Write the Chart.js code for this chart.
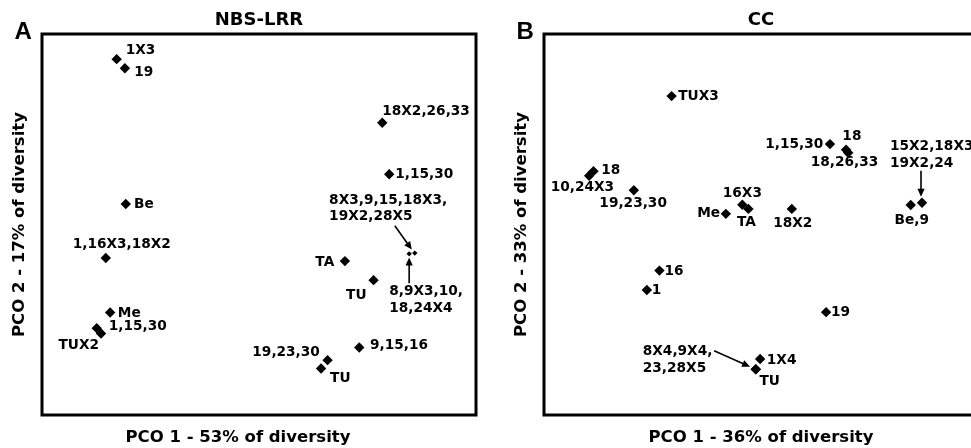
<!DOCTYPE html>
<html><head><meta charset="utf-8">
<script src="https://cdn.jsdelivr.net/npm/chart.js@4/dist/chart.umd.min.js"></script>
<style>
html,body{margin:0;padding:0;background:#fff;overflow:hidden;width:971px;height:448px;position:relative}
#wa{position:absolute;left:0;top:0;width:490px;height:448px}
#wb{position:absolute;left:490px;top:0;width:500px;height:448px}
</style></head><body>
<div id="wa"><canvas id="ca"></canvas></div>
<div id="wb"><canvas id="cb"></canvas></div>
<script>
// ---------- DATA ----------
const nbsTitle = "NBS-LRR";
const nbsXTitle = "PCO 1 - 53% of diversity";
const nbsYTitle = "PCO 2 - 17% of diversity";
const nbsLabels = ["1X3","19","18X2,26,33","1,15,30","Be","1,16X3,18X2","TA","TU",
  "8,9X3,10,\n18,24X4","8X3,9,15,18X3,\n19X2,28X5","Me","TUX2","1,15,30","9,15,16","19,23,30","TU"];
const nbsX = [17.2,19.1,78.4,80.0,19.3,14.7,69.8,76.4,84.6,85.9,15.7,12.6,13.6,73.1,65.8,64.3];
const nbsY = [93.4,91.0,76.7,63.2,55.4,41.2,40.4,35.4,42.3,42.5,26.9,22.8,21.4,17.7,14.4,12.2];

const ccTitle = "CC";
const ccXTitle = "PCO 1 - 36% of diversity";
const ccYTitle = "PCO 2 - 33% of diversity";
const ccLabels = ["TUX3","1,15,30","18","18,26,33","18","10,24X3","19,23,30","16X3","TA","Me","18X2",
  "Be,9","15X2,18X3,\n19X2,24","16","1","19","1X4","TU","8X4,9X4,\n23,28X5"];
const ccX = [29.4,65.9,69.6,70.1,11.4,10.4,20.7,45.7,47.1,41.9,57.1,84.5,87.1,26.6,23.7,65.0,49.8,48.8,48.8];
const ccY = [83.7,71.1,69.6,68.8,64.0,62.8,59.0,55.2,54.1,52.8,54.1,55.1,55.7,37.9,32.8,27.0,14.7,12.0,12.0];

// ---------- STYLE / LAYOUT ----------
const FONT = '"DejaVu Sans", sans-serif';
const nbsRadius = nbsLabels.map((_, i) => (i === 8 || i === 9) ? 2.7 : 5.2);
const ccRadius = ccLabels.map(() => 5.2);
// label placement: [dx, dy, align] relative to marker pixel position
const nbsPlace = [
  [9,-9,'left'],[9.3,4.4,'left'],[0,-11,'left'],[6,0,'left'],[8.3,0.5,'left'],[16,-13.7,'center'],
  [-10.7,1.3,'right'],[-7,15,'right'],[-20,38,'left'],[-85.7,-53,'left'],[7.7,0.6,'left'],
  [2.3,17.4,'right'],[7.7,-6.7,'left'],[10.7,-2,'left'],[-7.7,-7.6,'right'],[9,9.6,'left']
];
const nbsArrows = {8: [[0,29.3],[0,3.7]], 9: [[-20,-27.3],[-3,-3.5]]};
const ccPlace = [
  [6.6,0,'left'],[-6.7,0,'right'],[-3.7,-13.3,'left'],[-3.8,10,'center'],[7.7,-1,'left'],
  [25,12,'right'],[-0.7,13,'center'],[0,-11.4,'center'],[-2,13.7,'center'],[-5.7,0,'right'],
  [1,15,'center'],[1,15,'center'],[-32,-56,'left'],[5,1,'left'],[5,0.7,'left'],[5,0.4,'left'],
  [6.7,1,'left'],[3.6,11.7,'left'],[-113,-17.6,'left']
];
const ccArrows = {12: [[-1,-32],[-1,-6]], 18: [[-41.7,-18.6],[-5.7,-2.6]]};

function drawArrow(ctx, x1, y1, x2, y2) {
  const a = Math.atan2(y2 - y1, x2 - x1), L = 8, W = 3.6;
  const c = Math.cos(a), s = Math.sin(a);
  ctx.beginPath();
  ctx.moveTo(x1, y1);
  ctx.lineTo(x2 - L * 0.7 * c, y2 - L * 0.7 * s);
  ctx.lineWidth = 1.6;
  ctx.stroke();
  ctx.beginPath();
  ctx.moveTo(x2, y2);
  ctx.lineTo(x2 - L * c + W * s, y2 - L * s - W * c);
  ctx.lineTo(x2 - L * c - W * s, y2 - L * s + W * c);
  ctx.closePath();
  ctx.fill();
}

const decorPlugin = {
  id: 'decor',
  afterDatasetsDraw(chart, args, o) {
    const ctx = chart.ctx, ca = chart.chartArea;
    ctx.save();
    ctx.strokeStyle = '#000'; ctx.fillStyle = '#000';
    ctx.lineWidth = 3;
    ctx.strokeRect(ca.left, ca.top, ca.right - ca.left, ca.bottom - ca.top);
    ctx.font = 'bold 24px "Liberation Sans", Arial, sans-serif';
    ctx.textAlign = 'left'; ctx.textBaseline = 'alphabetic';
    ctx.fillText(o.letter, ca.left - 27.5, ca.top + 4.5);
    const meta = chart.getDatasetMeta(0);
    ctx.font = 'bold 13.7px ' + FONT;
    ctx.textBaseline = 'middle';
    o.names.forEach((name, i) => {
      const p = meta.data[i];
      const [dx, dy, al] = o.place[i];
      ctx.textAlign = al;
      name.split('\n').forEach((line, k) => ctx.fillText(line, p.x + dx, p.y + dy + k * 16.3));
    });
    Object.keys(o.arrows).forEach(k => {
      const p = meta.data[+k];
      const [[tx, ty], [hx, hy]] = o.arrows[k];
      drawArrow(ctx, p.x + tx, p.y + ty, p.x + hx, p.y + hy);
    });
    ctx.restore();
  }
};

function makeChart(id, xs, ys, names, radii, place, arrows, cfg) {
  const pts = xs.map((x, i) => ({x: x, y: ys[i]}));
  return new Chart(document.getElementById(id), {
    type: 'scatter',
    data: {datasets: [{data: pts, pointStyle: 'rectRot', pointRadius: radii, pointHoverRadius: radii,
      backgroundColor: '#000', borderColor: '#000', borderWidth: 0}]},
    options: {
      responsive: true, maintainAspectRatio: false, animation: false, events: [],
      layout: {padding: {left: cfg.padLeft, right: cfg.padRight, top: 0, bottom: 0}},
      plugins: {
        legend: {display: false}, tooltip: {enabled: false},
        title: {display: true, text: cfg.title, fullSize: false, color: '#000',
          font: {family: FONT, size: 18, weight: 'bold', lineHeight: 1.2}, padding: {top: 10, bottom: 2.4}},
        subtitle: {display: true, position: 'bottom', text: cfg.xTitle, fullSize: cfg.xFull, color: '#000',
          font: {family: FONT, size: 16.5, weight: 'bold', lineHeight: 1.2}, padding: {top: 13.2, bottom: 0}},
        decor: {letter: cfg.letter, names: names, place: place, arrows: arrows}
      },
      scales: {
        x: {type: 'linear', display: false, min: 0, max: 100},
        y: {type: 'linear', min: 0, max: 100, display: true,
          ticks: {display: false}, grid: {display: false, drawTicks: false}, border: {display: false},
          title: {display: true, text: cfg.yTitle, color: '#000',
            font: {family: FONT, size: 16.5, weight: 'bold', lineHeight: 1.2}, padding: {top: 10.1, bottom: 12.1}}}
      }
    },
    plugins: [decorPlugin]
  });
}

makeChart('ca', nbsX, nbsY, nbsLabels, nbsRadius, nbsPlace, nbsArrows,
  {title: nbsTitle, xTitle: nbsXTitle, yTitle: nbsYTitle, letter: 'A', padLeft: 0, padRight: 14, xFull: true});
makeChart('cb', ccX, ccY, ccLabels, ccRadius, ccPlace, ccArrows,
  {title: ccTitle, xTitle: ccXTitle, yTitle: ccYTitle, letter: 'B', padLeft: 12, padRight: 12, xFull: false});
</script>
</body></html>
